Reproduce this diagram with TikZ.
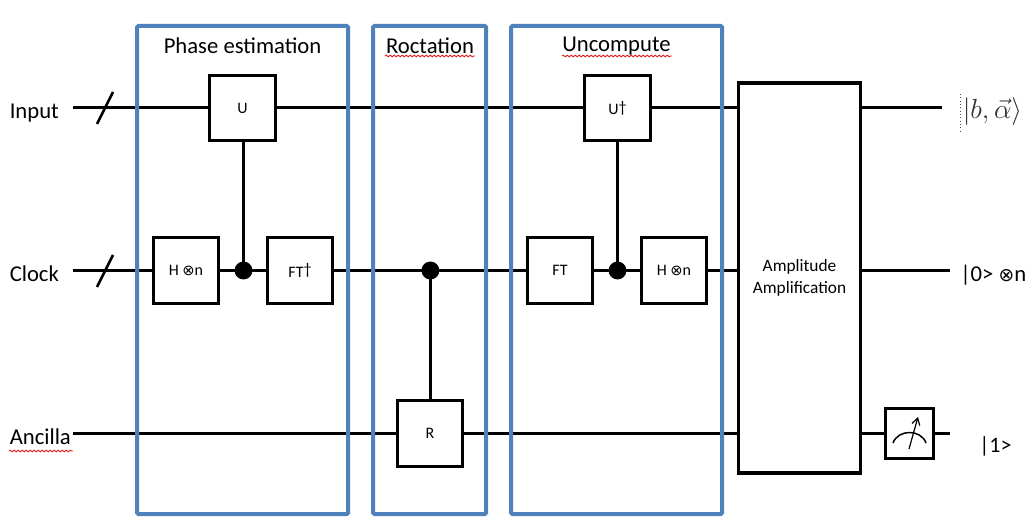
\documentclass[tikz,border=0pt]{standalone}
\usepackage{fontspec}
\setmainfont{Carlito}
\newfontfamily\symfont{DejaVu Sans}
\usetikzlibrary{decorations.pathmorphing,arrows.meta}
\definecolor{frameblue}{HTML}{4F81BD}
\definecolor{squig}{HTML}{E02020}
\newcommand{\otm}[1][11]{{\symfont\fontsize{#1}{#1}\selectfont ⊗}}
\tikzset{
  x=0.75pt,y=-0.75pt,
  wire/.style={line width=2.2pt,black},
  gate/.style={draw=black,fill=white,line width=2.3pt,minimum width=49pt,minimum height=49pt,inner sep=0pt,font=\fontsize{12}{14}\selectfont,align=center},
  ctrl/.style={circle,fill=black,draw=black,minimum size=13pt,inner sep=0pt},
  frame/.style={draw=frameblue,line width=3pt,rounded corners=1pt,fill=none},
  title/.style={font=\fontsize{17}{20}\selectfont,inner sep=0pt},
  wlabel/.style={font=\fontsize{17}{20}\selectfont,inner sep=0pt,anchor=base west},
  squiggle/.style={draw=squig,line width=0.7pt,decorate,decoration={snake,amplitude=0.6pt,segment length=3pt}},
  slash/.style={line width=2pt,black},
}
\begin{document}
\begin{tikzpicture}
\useasboundingbox (0,0) rectangle (1034,527);
\fill[white] (0,0) rectangle (1034,527);
% wire labels
\node[wlabel] (lin) at (9.5,118.5) {Input};
\node[wlabel] (lcl) at (9.5,281.5) {Clock};
\node[wlabel] (lan) at (9.5,444.5) {Ancilla};
% wire ends
\coordinate (i0) at (73,107.5); \coordinate (i1) at (942,107.5);
\coordinate (c0) at (73,270.5);   \coordinate (c1) at (950,270.5);
\coordinate (a0) at (73,433.5);
% wires
\draw[wire] (i0) -- (i1);
\draw[wire] (c0) -- (c1);
% gates
\node[gate] (U) at (242.5,108) {U};
\node[gate] (H1) at (186,270.5) {H \otm n};
\node[gate] (FTd) at (300,270.5) {FT\raisebox{0.35ex}{†}};
\node[gate] (R) at (430,433.5) {R};
\node[gate] (Ud) at (617.5,108) {U\raisebox{0.35ex}{†}};
\node[gate] (FT) at (560,270.5) {FT};
\node[gate] (H2) at (674,270.5) {H \otm n};
\node[gate,minimum width=92pt,minimum height=292.5pt,font=\fontsize{13}{16}\selectfont] (AA) at (799.5,278) {Amplitude\\Amplification};
\node[gate,minimum width=36.5pt,minimum height=37pt] (M) at (909.5,433.5) {};
% ancilla wire
\draw[wire] (a0) -- (R);
\draw[wire] (R) -- (AA.west |- R);
\draw[wire] (AA.east |- M) -- (M);
\coordinate (m1) at (950,433.5);
\draw[wire] (M) -- (m1);
% controls
\node[ctrl] (d1) at (243.5,270.5) {};
\node[ctrl] (d2) at (430.4,270.5) {};
\node[ctrl] (d3) at (617.5,270.5) {};
\draw[wire] (U.south -| d1) -- (d1);
\draw[wire] (d2) -- (R.north -| d2);
\draw[wire] (Ud) -- (d3);
% slashes
\coordinate (s1a) at (97,124); \coordinate (s1b) at (113,92);
\coordinate (s2a) at (97,287); \coordinate (s2b) at (113,255);
\draw[slash] (s1a) -- (s1b);
\draw[slash] (s2a) -- (s2b);
% meter
\draw[line width=1.1pt] (893,443) .. controls (898,429) and (921,429) .. (926,443);
\draw[line width=0.9pt,-{Straight Barb[length=5pt,width=6pt]}] (909,449) -- (918,417);
% frames
\draw[frame] (137,26) rectangle (348,514);
\draw[frame] (373,26) rectangle (486,514);
\draw[frame] (511,26) rectangle (722,514);
% titles
\node[title] (t1) at (242.5,46) {Phase estimation};
\node[title] (t2) at (430,46) {Roctation};
\node[title] (t3) at (616.5,46) {Uncompute};
\draw[squiggle] (385,56) -- (475,56);
\draw[squiggle] (562,56) -- (672,56);
\draw[squiggle] (9,451) -- (73,451);
% outputs
\node[inner sep=0pt,text=black!80,font=\fontsize{20.74}{24}\selectfont] (o1) at (992.5,112) {$|b,\vec{\alpha}\rangle$};
\draw[line width=0.5pt,black!70,dotted] (960,94) -- (960,131);
\node[inner sep=0pt,anchor=base west,font=\fontsize{17}{20}\selectfont] (o2) at (960,281) {|0> \otm[14]n};
\node[inner sep=0pt,anchor=base west,font=\fontsize{16.5}{20}\selectfont] (o3) at (979,452) {|1>};
\end{tikzpicture}
\end{document}
